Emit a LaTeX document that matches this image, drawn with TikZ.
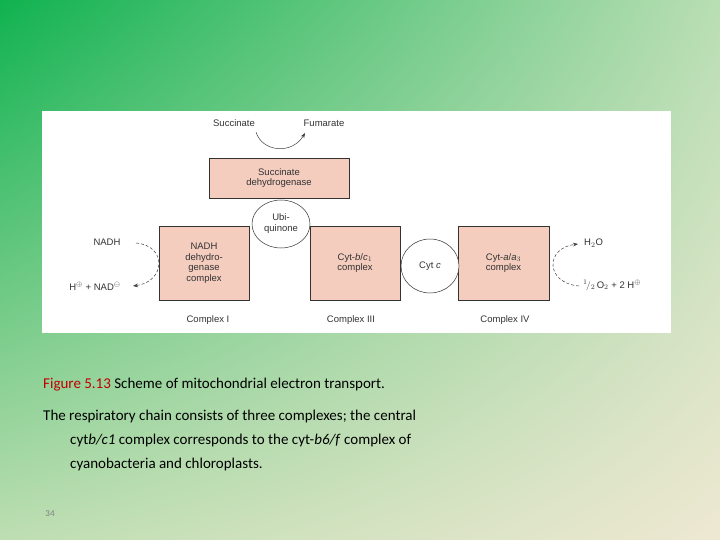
\documentclass[tikz,border=0pt]{standalone}
\usepackage{fontspec}
\setmainfont{Liberation Sans}
\newfontfamily\capfont{Carlito}
\usetikzlibrary{arrows.meta,shadings}
\definecolor{boxfill}{HTML}{F4CDBF}
\definecolor{figred}{HTML}{C00000}
\definecolor{bgul}{RGB}{16,178,80}
\definecolor{bgur}{RGB}{185,222,180}
\definecolor{bgll}{RGB}{190,222,178}
\definecolor{bglr}{RGB}{238,232,210}
\begin{document}
\begin{tikzpicture}[x=1pt,y=-1pt,
  cx/.style={draw=black!80,fill=boxfill,line width=0.6pt,inner sep=0pt,font=\fontsize{9.5}{10.5}\selectfont,align=center,text=black!80},
  lab/.style={font=\fontsize{9.5}{11}\selectfont,text=black!80,inner sep=0pt},
  dsh/.style={draw=black!75,densely dashed,line width=0.5pt,-{Stealth[length=5pt]}},
  captxt/.style={font=\capfont\fontsize{15}{18}\selectfont,anchor=west,inner sep=0pt}]
\useasboundingbox (0,0) rectangle (720,540);
\shade[upper left=bgul,upper right=bgur,lower left=bgll,lower right=bglr] (0,0) rectangle (720,540);
\node[fill=white,minimum width=629pt,minimum height=222pt,inner sep=0pt,anchor=north west] (panel) at (42,111) {};
\node[cx,minimum width=140pt,minimum height=40pt] (sdh) at (279,178) {Succinate\\dehydrogenase};
\node[cx,minimum width=90pt,minimum height=74pt] (c1) at (204,263) {NADH\\dehydro-\\genase\\complex};
\node[cx,minimum width=90pt,minimum height=74pt] (c3) at (355,263) {Cyt-\textit{b}/\textit{c}$_1$\\complex};
\node[cx,minimum width=91pt,minimum height=74pt] (c4) at (503.5,263) {Cyt-\textit{a}/\textit{a}$_3$\\complex};
\draw[draw=black!80,line width=0.5pt,fill=white] (281,224) ellipse [x radius=29,y radius=24];
\node[lab,align=center] (ubq) at (281,224) {Ubi-\\quinone};
\draw[draw=black!80,line width=0.5pt,fill=white] (430,266) ellipse [x radius=29,y radius=27];
\node[lab] (cytc) at (430,266) {Cyt \textit{c}};
\node[lab] (succ) at (234,123) {Succinate};
\node[lab] (fum) at (324,123) {Fumarate};
\draw[draw=black!75,line width=0.5pt,-{Stealth[length=5pt]}] (256,132) .. controls (262,152) and (292,155) .. (305,133);
\node[lab] (nadh) at (107,242) {NADH};
\node[lab] (nad) at (95,286) {H$^{\oplus}$ + NAD$^{\ominus}$};
\coordinate (n1) at (136,243);
\coordinate (n2) at (133,286);
\draw[dsh] (n1) .. controls (168,246) and (165,282) .. (n2);
\node[lab,anchor=west] (h2o) at (584,243) {H$_2$O};
\node[lab,anchor=west] (o2) at (583,285) {$^1\!/_2$\,O$_2$ + 2 H$^{\oplus}$};
\coordinate (o1) at (579,286);
\coordinate (o3) at (578,244);
\draw[dsh] (o1) .. controls (545,283) and (545,248) .. (o3);
\node[lab] (cI) at (208,320) {Complex I};
\node[lab] (cIII) at (351,320) {Complex III};
\node[lab] (cIV) at (505,320) {Complex IV};
\node[captxt] (l1) at (43,385) {\textcolor{figred}{Figure 5.13} Scheme of mitochondrial electron transport.};
\node[captxt] (l2) at (43,416) {The respiratory chain consists of three complexes; the central};
\node[captxt] (l3) at (70,440) {cyt\textit{b/c1} complex corresponds to the cyt-\textit{b6/f} complex of};
\node[captxt] (l4) at (70,464) {cyanobacteria and chloroplasts.};
\node[font=\capfont\fontsize{9}{10}\selectfont,text=black!50,inner sep=0pt] (pg) at (50,514) {34};
\end{tikzpicture}
\end{document}
